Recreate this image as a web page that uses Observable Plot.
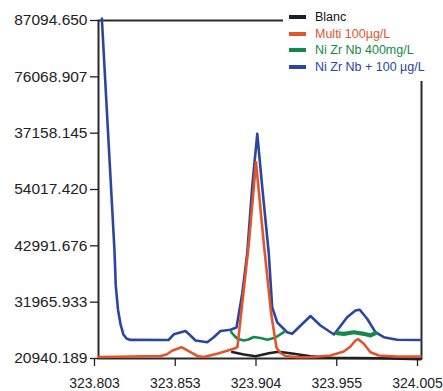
<!DOCTYPE html>
<html>
<head>
<meta charset="utf-8">
<script src="https://cdn.jsdelivr.net/npm/d3@7"></script>
<script src="https://cdn.jsdelivr.net/npm/@observablehq/plot@0.6"></script>
<style>
  html, body { margin: 0; padding: 0; background: #fff; }
  #wrap { position: relative; width: 443px; height: 391px; font-family: "Liberation Sans", Arial, sans-serif; }
  #wrap svg text { font-family: "Liberation Sans", Arial, sans-serif !important; fill: #222; }
  #wrap svg g[aria-label="y-axis tick label"] text { font-size: 15.5px !important; }
  #wrap svg g[aria-label="x-axis tick label"] text { font-size: 14px !important; }
  #legend { position: absolute; left: 283px; top: 0; width: 160px; height: 81px; background: #fff; padding-top: 9px; box-sizing: border-box; }
  .item { display: flex; align-items: center; height: 16.6px; font-size: 12.5px; }
  .sw { width: 17px; height: 4px; margin-left: 6px; margin-right: 9px; flex: none; }
</style>
</head>
<body>
<div id="wrap"><div id="legend"></div></div>
<script>
// ---- data (wavelength nm, intensity) ----
const xDomain = [323.803, 324.005];
const yDomain = [20940.189, 87094.650];
const xTickLabels = ["323.803", "323.853", "323.904", "323.955", "324.005"];
const yTickLabels = ["20940.189", "31965.933", "42991.676", "54017.420", "37158.145", "76068.907", "87094.650"];

const seriesNames = ["Blanc", "Multi 100µg/L", "Ni Zr Nb 400mg/L", "Ni Zr Nb + 100 µg/L"];
const seriesColors = ["#231f20", "#e2552b", "#15894a", "#2b46a1"];

const blanc = [
  [323.8866, 22212], [323.8939, 21723], [323.9012, 21371], [323.9095, 21958],
  [323.9156, 22271], [323.9251, 21860], [323.9356, 21390], [323.9481, 21097],
  [323.9794, 20979], [324.0044, 20783]
];
const multi = [
  [323.8030, 21234], [323.8418, 21429], [323.8455, 21723], [323.8493, 22506],
  [323.8549, 23152], [323.8605, 22173], [323.8649, 21429], [323.8687, 21234],
  [323.8772, 21860], [323.8876, 22839], [323.8899, 23191], [323.8970, 43389],
  [323.9015, 59360], [323.9064, 43389], [323.9110, 29689], [323.9143, 23093],
  [323.9168, 22016], [323.9199, 21429], [323.9273, 21194], [323.9374, 21234],
  [323.9481, 21527], [323.9564, 22310], [323.9606, 23289], [323.9637, 24463],
  [323.9653, 24757], [323.9689, 23817], [323.9731, 22173], [323.9783, 21527],
  [323.9894, 21331], [324.0044, 21331]
];
const nizrnbA = [
  [323.8860, 26087], [323.8881, 25344], [323.8899, 24796], [323.8939, 24463],
  [323.8968, 24659], [323.9001, 25148], [323.9043, 24952], [323.9087, 24620],
  [323.9137, 25050], [323.9179, 25892], [323.9193, 26224]
];
const nizrnbB = [
  [323.9523, 25892], [323.9564, 25774], [323.9627, 26087], [323.9690, 25774],
  [323.9731, 25442], [323.9762, 25931]
];
const nizrnbPlus = [
  [323.8051, 87486], [323.8089, 65565], [323.8130, 42078], [323.8138, 35200],
  [323.8152, 30500], [323.8168, 27600], [323.8185, 25700], [323.8205, 24850],
  [323.8230, 24580], [323.8468, 24561], [323.8501, 25676], [323.8574, 26322],
  [323.8608, 25344], [323.8637, 24463], [323.8710, 24130], [323.8751, 25109],
  [323.8793, 26322], [323.8856, 26557], [323.8893, 27007], [323.8929, 33662],
  [323.8960, 41491], [323.8991, 54468], [323.9023, 64919], [323.9054, 54468],
  [323.9095, 41491], [323.9116, 30981], [323.9148, 27986], [323.9210, 26087],
  [323.9241, 25774], [323.9356, 29258], [323.9418, 27399], [323.9503, 25637],
  [323.9585, 29023], [323.9637, 30335], [323.9664, 30472], [323.9710, 28710],
  [323.9762, 26087], [323.9814, 25109], [323.9898, 24620], [324.0044, 24561]
];

// evenly spaced tick positions across the domains
const xTicks = xTickLabels.map((_, i) => xDomain[0] + i * (xDomain[1] - xDomain[0]) / (xTickLabels.length - 1));
const yTicks = yTickLabels.map((_, i) => yDomain[0] + i * (yDomain[1] - yDomain[0]) / (yTickLabels.length - 1));

const lineOpts = (color, w) => ({x: d => d[0], y: d => d[1], stroke: color, strokeWidth: w, strokeLinejoin: "round", strokeLinecap: "round"});

const chart = Plot.plot({
  width: 443,
  height: 391,
  marginLeft: 98,
  marginRight: 22,
  marginTop: 20,
  marginBottom: 33,
  style: {fontFamily: "'Liberation Sans', Arial, sans-serif", color: "#222", background: "#fff"},
  x: {domain: xDomain},
  y: {domain: yDomain},
  marks: [
    Plot.frame({stroke: "#2a2a2a", strokeWidth: 2}),
    Plot.axisY({ticks: yTicks, tickFormat: d => yTickLabels[yTicks.indexOf(d)], tickSize: 8, tickPadding: 3, label: null, strokeWidth: 1.3}),
    Plot.axisX({ticks: xTicks, tickFormat: d => xTickLabels[xTicks.indexOf(d)], tickSize: 8, tickPadding: 12, label: null, strokeWidth: 1.3, dx: -4}),
    Plot.line(nizrnbPlus, lineOpts(seriesColors[3], 2.6)),
    Plot.line(nizrnbA, lineOpts(seriesColors[2], 2.6)),
    Plot.line(nizrnbB, lineOpts(seriesColors[2], 4.2)),
    Plot.line(blanc, lineOpts(seriesColors[0], 2.6)),
    Plot.line(multi, lineOpts(seriesColors[1], 2.6))
  ]
});
const wrap = document.getElementById("wrap");
wrap.insertBefore(chart, wrap.firstChild);

const legend = document.getElementById("legend");
seriesNames.forEach((name, i) => {
  const row = document.createElement("div");
  row.className = "item";
  const sw = document.createElement("span");
  sw.className = "sw";
  sw.style.background = seriesColors[i];
  const t = document.createElement("span");
  t.textContent = name;
  t.style.color = i === 0 ? "#111" : seriesColors[i];
  row.appendChild(sw);
  row.appendChild(t);
  legend.appendChild(row);
});
</script>
</body>
</html>
